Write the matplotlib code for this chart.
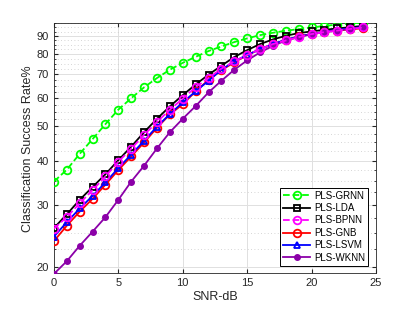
import numpy as np
import matplotlib
matplotlib.use("Agg")
import matplotlib.pyplot as plt
from matplotlib.ticker import FixedLocator, NullFormatter

plt.rcParams['font.family'] = ['Liberation Sans', 'DejaVu Sans']

# SNR points (dB)
snr = list(range(25))

# success rates (%)
grnn = [34.9, 37.7, 41.8, 46.0, 50.7, 55.7, 60.0, 64.4, 68.4, 72.2, 75.5, 78.5, 81.5,
        84.0, 86.4, 88.5, 90.4, 91.8, 93.0, 94.0, 95.0, 96.0, 96.8, 97.5, 98.0]
lda = [25.8, 28.2, 31.0, 33.7, 36.6, 40.1, 43.8, 48.1, 52.5, 56.9, 61.2, 65.6, 69.9,
       74.1, 78.4, 82.0, 85.3, 87.9, 90.0, 91.6, 92.6, 93.6, 94.4, 95.2, 96.0]
bpnn = [25.7, 27.7, 30.3, 33.0, 36.1, 39.7, 43.2, 47.3, 51.4, 55.7, 59.8, 64.5, 68.4,
        72.7, 76.2, 79.5, 82.5, 85.3, 87.3, 89.2, 91.0, 92.2, 93.1, 94.1, 95.0]
gnb = [23.7, 26.2, 28.7, 31.2, 34.2, 37.6, 41.1, 45.0, 49.5, 54.0, 57.7, 62.7, 67.6,
       71.9, 75.8, 79.3, 82.5, 85.3, 87.7, 89.6, 91.1, 92.4, 93.1, 93.9, 94.5]
lsvm = [24.4, 26.8, 29.3, 31.8, 34.7, 38.1, 41.6, 45.5, 49.9, 54.1, 58.4, 62.7, 67.2,
        72.2, 76.2, 79.5, 82.5, 85.3, 87.7, 89.6, 91.1, 92.4, 93.6, 94.4, 95.4]
wknn = [19.15, 20.8, 23.0, 25.2, 27.7, 31.0, 34.9, 38.7, 43.3, 48.1, 52.5, 57.0, 62.3,
        67.2, 72.2, 76.7, 80.8, 84.3, 87.3, 89.2, 91.0, 92.2, 93.1, 94.1, 95.0]

yticks = [20, 30, 40, 50, 60, 70, 80, 90]

fig = plt.figure(figsize=(4.15, 3.09), dpi=100)
ax = fig.add_axes([0.130, 0.115, 0.776, 0.810])

ax.plot(snr, grnn, '--o', color='#00ff00', lw=1.3, ms=5.5, mfc='none', mew=1.3, label='PLS-GRNN', zorder=3)
ax.plot(snr, lda, '-s', color='black', lw=1.3, ms=4.5, mfc='none', mew=1.3, label='PLS-LDA', zorder=3)
ax.plot(snr, bpnn, '--o', color='#ff00ff', lw=1.3, ms=5.5, mfc='none', mew=1.3, label='PLS-BPNN', zorder=4)
ax.plot(snr, gnb, '-o', color='red', lw=1.3, ms=5.5, mfc='none', mew=1.3, label='PLS-GNB', zorder=3)
ax.plot(snr, lsvm, '-^', color='blue', lw=1.3, ms=5, mfc='none', mew=1.3, label='PLS-LSVM', zorder=3)
ax.plot(snr, wknn, '-o', color='#8b00a8', lw=1.3, ms=4, mfc='#8b00a8', mew=1, label='PLS-WKNN', zorder=3)

ax.set_yscale('log')
ax.set_xlim(0, 25)
ax.set_ylim(19.2, 97.7)
ax.yaxis.set_major_locator(FixedLocator(yticks))
ax.set_yticklabels([str(t) for t in yticks])
ax.yaxis.set_minor_locator(FixedLocator(np.arange(20, 98, 2.5)))
ax.yaxis.set_minor_formatter(NullFormatter())
ax.set_xticks([0, 5, 10, 15, 20, 25])

ax.grid(True, which='major', color='#e0e0e0', lw=0.7)
ax.grid(True, which='minor', axis='y', color='#c8c8c8', lw=0.6, ls=(0, (1, 3)))
ax.set_axisbelow(True)

ax.tick_params(which='both', direction='in', top=True, right=True, labelsize=8, colors='#262626')
ax.tick_params(which='major', length=3)
ax.tick_params(which='minor', length=1.5)
for s in ax.spines.values():
    s.set_color('#262626')
    s.set_linewidth(0.6)

ax.set_xlabel('SNR-dB', fontsize=9, color='#262626', labelpad=2)
ax.set_ylabel('Classification Success Rate%', fontsize=9, color='#262626', labelpad=2)

leg = ax.legend(loc='lower right', fontsize=7, fancybox=False, edgecolor='black',
                framealpha=1, borderaxespad=0.8, handlelength=2.8, labelspacing=0.25,
                borderpad=0.3, handletextpad=0.4)
leg.get_frame().set_linewidth(0.7)

fig.savefig('out.png', dpi=100)
